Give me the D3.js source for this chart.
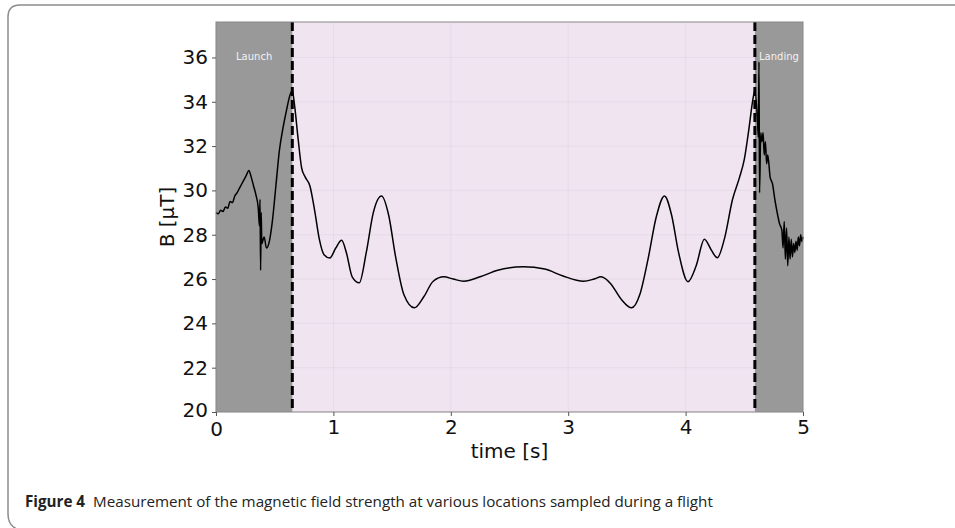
<!DOCTYPE html>
<html>
<head>
<meta charset="utf-8">
<script src="https://cdn.jsdelivr.net/npm/d3@7/dist/d3.min.js"></script>
<style>
  body { margin: 0; background: #fff; }
  svg { display: block; }
</style>
</head>
<body>
<div id="chart"></div>
<script>
// magnetic field over a flight, launch and landing shaded
var width = 955, height = 528;
var margin = {left: 216, right: 152, top: 22, bottom: 116};

// data
var time = [0.00, 0.02, 0.04, 0.06, 0.08, 0.10, 0.12, 0.14, 0.16, 0.18,
  0.20, 0.22, 0.24, 0.26, 0.28, 0.30, 0.32, 0.34, 0.36, 0.37,
  0.375, 0.38, 0.385, 0.39, 0.41, 0.43, 0.45, 0.48, 0.51, 0.54,
  0.57, 0.60, 0.63, 0.65, 0.67, 0.70, 0.73, 0.76, 0.80, 0.84,
  0.88, 0.92, 0.97, 1.02, 1.07, 1.11, 1.16, 1.22, 1.28, 1.34,
  1.41, 1.47, 1.53, 1.60, 1.69, 1.77, 1.85, 1.94, 2.02, 2.11,
  2.25, 2.40, 2.62, 2.80, 2.95, 3.13, 3.22, 3.28, 3.36, 3.45,
  3.54, 3.61, 3.68, 3.75, 3.82, 3.88, 3.94, 4.02, 4.09, 4.16,
  4.22, 4.27, 4.33, 4.40, 4.46, 4.50, 4.54, 4.57, 4.59, 4.61,
  4.62, 4.625, 4.63, 4.64, 4.65, 4.66, 4.67, 4.68, 4.69, 4.70,
  4.72, 4.74, 4.76, 4.78, 4.80, 4.82, 4.83, 4.84, 4.85, 4.86,
  4.87, 4.88, 4.89, 4.90, 4.91, 4.92, 4.93, 4.94, 4.95, 4.96,
  4.97, 4.98, 4.99, 5.00];
var field = [29.0, 28.95, 29.1, 29.05, 29.25, 29.2, 29.5, 29.45, 29.75, 29.9,
  30.1, 30.3, 30.5, 30.7, 30.9, 30.6, 30.2, 29.8, 29.2, 28.4,
  29.6, 26.4, 29.0, 27.6, 27.9, 27.4, 27.6, 28.6, 30.2, 31.8,
  32.8, 33.6, 34.3, 34.5, 33.8, 32.3, 31.0, 30.6, 30.2, 29.1,
  27.8, 27.1, 26.95, 27.4, 27.75, 27.2, 26.1, 25.83, 27.2, 29.0,
  29.75, 28.9, 27.0, 25.3, 24.7, 25.2, 25.9, 26.1, 26.0, 25.9,
  26.1, 26.4, 26.55, 26.45, 26.15, 25.9, 26.0, 26.1, 25.8, 25.1,
  24.7, 25.3, 26.9, 28.8, 29.75, 28.9, 27.2, 25.88, 26.6, 27.8,
  27.3, 26.96, 27.8, 29.6, 30.6, 31.4, 32.8, 34.0, 34.5, 33.4,
  32.4, 35.8, 29.9, 32.6, 32.2, 32.6, 31.6, 32.2, 31.2, 31.6,
  30.6, 30.3, 29.6, 29.0, 28.5, 28.2, 27.4, 28.6, 26.9, 28.3,
  26.6, 27.9, 26.9, 27.8, 27.0, 27.6, 27.2, 27.7, 27.3, 27.9,
  27.5, 28.0, 27.7, 27.9];
var phases = [
  {name: "Launch", start: 0, end: 0.65},
  {name: "Landing", start: 4.59, end: 5}
];
var xTicks = [0, 1, 2, 3, 4, 5];
var yTicks = [20, 22, 24, 26, 28, 30, 32, 34, 36];

var svg = d3.select("#chart").append("svg")
    .attr("width", width).attr("height", height);

// figure frame with rounded corner
svg.append("path")
    .attr("d", "M956,5 H20 Q8,5 8,17 V514 Q8,527 20,530")
    .attr("fill", "none").attr("stroke", "#8c8c8c").attr("stroke-width", 1.5);

var x = d3.scaleLinear().domain([0, 5])
    .range([margin.left, width - margin.right]);
var y = d3.scaleLinear().domain([20, 37.6])
    .range([height - margin.bottom, margin.top]);

// flight background
svg.append("rect")
    .attr("x", x(0)).attr("y", y(37.6))
    .attr("width", x(5) - x(0)).attr("height", y(20) - y(37.6))
    .attr("fill", "#f0e4f1");

// grid
var grid = svg.append("g").attr("stroke", "#b0a0b4").attr("stroke-opacity", 0.13);
grid.selectAll(".gx").data(xTicks).enter().append("line")
    .attr("x1", function(d){ return x(d); }).attr("x2", function(d){ return x(d); })
    .attr("y1", y(20)).attr("y2", y(37.6));
grid.selectAll(".gy").data(yTicks).enter().append("line")
    .attr("x1", x(0)).attr("x2", x(5))
    .attr("y1", function(d){ return y(d); }).attr("y2", function(d){ return y(d); });

// launch / landing spans
svg.selectAll(".phase").data(phases).enter().append("rect")
    .attr("x", function(d){ return x(d.start); })
    .attr("y", y(37.6))
    .attr("width", function(d){ return x(d.end) - x(d.start); })
    .attr("height", y(20) - y(37.6))
    .attr("fill", "#999999");

svg.selectAll(".phaselabel").data(phases).enter().append("text")
    .attr("x", function(d){ return (x(d.start) + x(d.end)) / 2; })
    .attr("y", y(36) + 3)
    .attr("text-anchor", "middle")
    .attr("font-family", "DejaVu Sans")
    .attr("font-size", 10)
    .attr("fill", "#f2f2f2")
    .text(function(d){ return d.name; });

// measurement
var line = d3.line()
    .x(function(d, i){ return x(time[i]); })
    .y(function(d){ return y(d); })
    .curve(d3.curveMonotoneX);
svg.append("path").datum(field)
    .attr("d", line)
    .attr("fill", "none").attr("stroke", "#000").attr("stroke-width", 1.5);

// phase boundaries
svg.selectAll(".bound").data([phases[0].end, phases[1].start]).enter().append("line")
    .attr("x1", function(d){ return x(d); }).attr("x2", function(d){ return x(d); })
    .attr("y1", y(37.6)).attr("y2", y(20))
    .attr("stroke", "#000").attr("stroke-width", 3)
    .attr("stroke-dasharray", "9,4");

// plot frame
svg.append("rect")
    .attr("x", x(0)).attr("y", y(37.6))
    .attr("width", x(5) - x(0)).attr("height", y(20) - y(37.6))
    .attr("fill", "none").attr("stroke", "#888").attr("stroke-width", 1);

// axes
var xAxis = svg.append("g").attr("transform", "translate(0," + y(20) + ")")
    .call(d3.axisBottom(x).tickValues(xTicks).tickFormat(d3.format("d")).tickSize(4).tickPadding(4));
var yAxis = svg.append("g").attr("transform", "translate(" + x(0) + ",0)")
    .call(d3.axisLeft(y).tickValues(yTicks).tickFormat(d3.format("d")).tickSize(4).tickPadding(4));
[xAxis, yAxis].forEach(function(a){
  a.select(".domain").remove();
  a.selectAll("line").attr("stroke", "#555");
  a.selectAll("text").attr("font-family", "DejaVu Sans").attr("font-size", 20).attr("fill", "#111");
});
// corner labels sit tight in the source; nudge so they do not collide
yAxis.selectAll(".tick text").filter(function(d){ return d === 20; }).attr("dy", "0.2em");
xAxis.selectAll(".tick text").filter(function(d){ return d === 0; }).attr("dy", "0.8em");

svg.append("text")
    .attr("x", (x(0) + x(5)) / 2).attr("y", 458)
    .attr("text-anchor", "middle")
    .attr("font-family", "DejaVu Sans").attr("font-size", 20).attr("fill", "#111")
    .text("time [s]");
svg.append("text")
    .attr("transform", "translate(174," + ((y(20) + y(37.6)) / 2) + ") rotate(-90)")
    .attr("text-anchor", "middle")
    .attr("font-family", "DejaVu Sans").attr("font-size", 20).attr("fill", "#111")
    .text("B [µT]");

// caption
var cap = svg.append("text").attr("x", 25).attr("y", 507)
    .attr("font-family", "Open Sans").attr("font-size", 15.2).attr("fill", "#222");
cap.append("tspan").attr("font-weight", "bold").text("Figure 4");
cap.append("tspan").attr("dx", 8).text("Measurement of the magnetic field strength at various locations sampled during a flight");
</script>
</body>
</html>
